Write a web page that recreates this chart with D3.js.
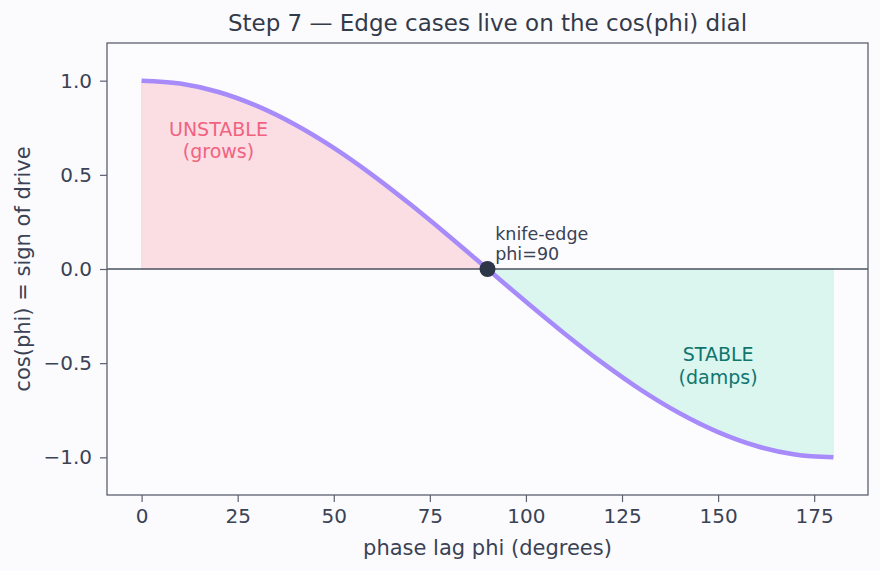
<!DOCTYPE html>
<html lang="en">
<head>
<meta charset="UTF-8">
<title>Step 7 — Edge cases live on the cos(phi) dial</title>
<script src="https://d3js.org/d3.v7.min.js"></script>
<style>
  body { margin: 0; background: #fbfbfe; }
  svg { font-family: "DejaVu Sans", sans-serif; display: block; }
</style>
</head>
<body>
<svg width="880" height="571"></svg>
<script>
// phase lag (degrees) and cos(phi)
const phi = [0, 10, 20, 30, 40, 50, 60, 70, 80, 90, 100, 110, 120, 130, 140, 150, 160, 170, 180];
const drive = [1.000, 0.985, 0.940, 0.866, 0.766, 0.643, 0.500, 0.342, 0.174, 0.000,
               -0.174, -0.342, -0.500, -0.643, -0.766, -0.866, -0.940, -0.985, -1.000];
const xTicks = [0, 25, 50, 75, 100, 125, 150, 175];
const yTicks = [-1.0, -0.5, 0.0, 0.5, 1.0];
const knife = [90, 0];

const width = 880, height = 571;
const margin = { top: 43, right: 12, bottom: 76, left: 107 };
const axisColor = "#5b5f6e", textColor = "#3a4254";

const svg = d3.select("svg");
svg.append("rect").attr("width", width).attr("height", height).attr("fill", "#fbfbfe");

const x = d3.scaleLinear().domain([-9, 189]).range([margin.left, width - margin.right]);
const y = d3.scaleLinear().domain([-1.2, 1.2]).range([height - margin.bottom, margin.top]);

svg.append("rect")
  .attr("x", margin.left).attr("y", margin.top)
  .attr("width", width - margin.left - margin.right)
  .attr("height", height - margin.top - margin.bottom)
  .attr("fill", "#fcfcff");

const pts = phi.map((p, i) => ({ p: p, v: drive[i] }));

const area = d3.area()
  .x(d => x(d.p)).y0(y(0)).y1(d => y(d.v))
  .curve(d3.curveMonotoneX);

svg.append("path")
  .datum(pts.filter(d => d.p <= 90))
  .attr("d", area)
  .attr("fill", "#fb7185").attr("fill-opacity", 0.22)
  .attr("stroke", "#fb7185").attr("stroke-opacity", 0.15);

svg.append("path")
  .datum(pts.filter(d => d.p >= 90))
  .attr("d", area)
  .attr("fill", "#34d399").attr("fill-opacity", 0.16)
  .attr("stroke", "#34d399").attr("stroke-opacity", 0.1);

// zero line
svg.append("line")
  .attr("x1", margin.left).attr("x2", width - margin.right)
  .attr("y1", y(0)).attr("y2", y(0))
  .attr("stroke", "#4b5262").attr("stroke-width", 1.3);

const line = d3.line().x(d => x(d.p)).y(d => y(d.v)).curve(d3.curveMonotoneX);
svg.append("path")
  .datum(pts)
  .attr("d", line)
  .attr("fill", "none")
  .attr("stroke", "#a78bfa")
  .attr("stroke-width", 4.5);

svg.append("circle")
  .attr("cx", x(knife[0])).attr("cy", y(knife[1])).attr("r", 8)
  .attr("fill", "#2d3748");

// axes
function styleAxis(g) {
  g.select(".domain").remove();
  g.selectAll(".tick line").attr("stroke", axisColor).attr("stroke-width", 1.2);
  g.selectAll(".tick text").attr("fill", textColor).attr("font-size", 20)
    .attr("font-family", "DejaVu Sans, sans-serif");
}

svg.append("g")
  .attr("transform", `translate(0,${height - margin.bottom})`)
  .call(d3.axisBottom(x).tickValues(xTicks).tickSize(7).tickPadding(7).tickFormat(d3.format("d")))
  .call(styleAxis);

svg.append("g")
  .attr("transform", `translate(${margin.left},0)`)
  .call(d3.axisLeft(y).tickValues(yTicks).tickSize(7).tickPadding(8)
    .tickFormat(d => d3.format(".1f")(d).replace("-", "\u2212")))
  .call(styleAxis);

svg.append("rect")
  .attr("x", margin.left).attr("y", margin.top)
  .attr("width", width - margin.left - margin.right)
  .attr("height", height - margin.top - margin.bottom)
  .attr("fill", "none").attr("stroke", axisColor).attr("stroke-width", 1.3);

// labels
svg.append("text")
  .attr("x", (margin.left + width - margin.right) / 2).attr("y", 31)
  .attr("text-anchor", "middle").attr("font-size", 23).attr("fill", "#333a4a")
  .text("Step 7 \u2014 Edge cases live on the cos(phi) dial");

svg.append("text")
  .attr("x", (margin.left + width - margin.right) / 2).attr("y", 555)
  .attr("text-anchor", "middle").attr("font-size", 21).attr("fill", textColor)
  .text("phase lag phi (degrees)");

svg.append("text")
  .attr("transform", `translate(30,${y(0)}) rotate(-90)`)
  .attr("text-anchor", "middle").attr("font-size", 21).attr("fill", textColor)
  .text("cos(phi) = sign of drive");

function twoLines(px, py, lines, color, size, anchor) {
  const t = svg.append("text")
    .attr("x", x(px)).attr("y", y(py))
    .attr("text-anchor", anchor).attr("font-size", size).attr("fill", color);
  lines.forEach((s, i) => {
    t.append("tspan").attr("x", x(px)).attr("dy", i === 0 ? 0 : size * 1.17).text(s);
  });
}

twoLines(20, 0.705, ["UNSTABLE", "(grows)"], "#f0637f", 19, "middle");
twoLines(150, -0.49, ["STABLE", "(damps)"], "#0f766e", 19, "middle");
twoLines(92, 0.155, ["knife-edge", "phi=90"], textColor, 17.5, "start");
</script>
</body>
</html>
